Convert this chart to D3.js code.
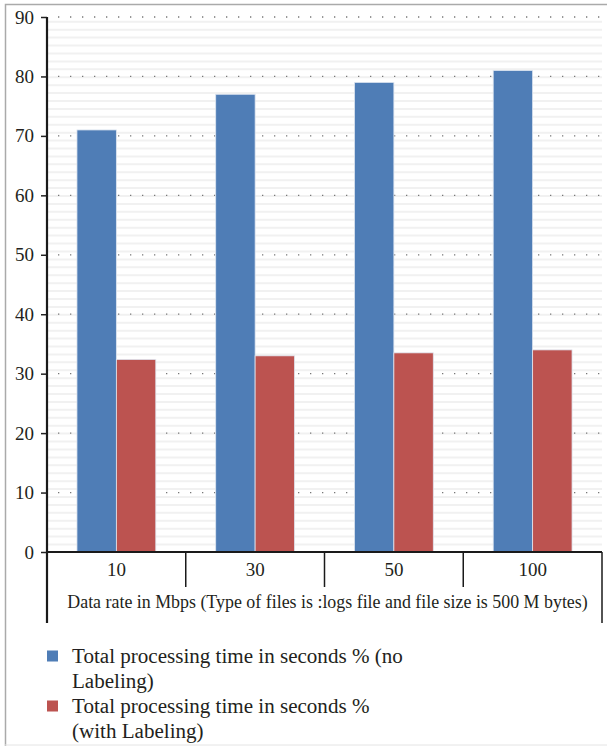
<!DOCTYPE html>
<html><head><meta charset="utf-8">
<script src="https://cdn.jsdelivr.net/npm/d3@7"></script>
<style>
html,body{margin:0;padding:0;background:#fff;}
svg{display:block;}
text{font-family:"Liberation Serif","Times New Roman",serif;fill:#231f20;}
</style></head>
<body>
<svg id="chart" width="607" height="746"></svg>
<script>
const categories = ["10", "30", "50", "100"];
const seriesNames = ["Total processing time in seconds % (no Labeling)",
                     "Total processing time in seconds % (with Labeling)"];
const noLabeling = [71, 77, 79, 81];
const withLabeling = [32.4, 33, 33.5, 34];
const yTicks = [0, 10, 20, 30, 40, 50, 60, 70, 80, 90];
const xTitle = "Data rate in Mbps (Type of files is :logs file and file size is 500 M bytes)";
const colors = ["#4f7db6", "#bc5350"];

const svg = d3.select("#chart");
const L = 47, R = 602, T = 17, B = 552;

// outer frame
svg.append("path").attr("d", `M5.5,746 V4.5 H607`).attr("fill","none").attr("stroke","#aaa").attr("stroke-width",1.5);
svg.append("line").attr("x1",5).attr("x2",607).attr("y1",745).attr("y2",745).attr("stroke","#e4e4e4").attr("stroke-width",1);

const y = d3.scaleLinear().domain([0, 90]).range([B, T]);
const x0 = d3.scaleBand().domain(categories).range([L, R]);
const x1 = d3.scaleBand().domain([0, 1]).range([0, x0.bandwidth()]).paddingOuter(0.76).paddingInner(0);

// faint background stripes
for (let yy = B - 7.5; yy > T; yy -= 7.92) {
  svg.append("line").attr("x1", L).attr("x2", R).attr("y1", yy).attr("y2", yy)
    .attr("stroke", "#f1f1f1").attr("stroke-width", 2);
}
// dotted gridlines
svg.append("g").selectAll("line").data(yTicks.filter(d => d > 0)).join("line")
  .attr("x1", L + 11).attr("x2", R).attr("y1", d => y(d)).attr("y2", d => y(d))
  .attr("stroke", "#777").attr("stroke-width", 1.3).attr("stroke-dasharray", "1.3,10.7");

// bars
const data = categories.map((c, i) => ({c, v: [noLabeling[i], withLabeling[i]]}));
const g = svg.append("g").selectAll("g").data(data).join("g")
  .attr("transform", d => `translate(${x0(d.c)},0)`);
g.selectAll("rect").data(d => d.v.map((v, k) => ({v, k}))).join("rect")
  .attr("x", d => x1(d.k)).attr("width", x1.bandwidth())
  .attr("y", d => y(d.v)).attr("height", d => B - y(d.v))
  .attr("fill", d => colors[d.k]).attr("stroke", "#dfe6f0").attr("stroke-width", 0.8);

// y axis
const yAxis = d3.axisLeft(y).tickValues(yTicks).tickSize(6).tickPadding(7);
const ya = svg.append("g").attr("transform", `translate(${L},0)`).call(yAxis);
ya.select(".domain").remove();
ya.selectAll(".tick line").attr("stroke", "#222").attr("stroke-width", 1.5);
ya.selectAll("text").attr("font-size", 19).attr("font-family", '"Liberation Serif",serif').attr("fill","#231f20");
svg.append("line").attr("x1", L).attr("x2", L).attr("y1", T).attr("y2", B + 71)
  .attr("stroke", "#1a1a1a").attr("stroke-width", 2.2);

// x axis box
svg.append("line").attr("x1", L).attr("x2", R).attr("y1", B).attr("y2", B).attr("stroke", "#1a1a1a").attr("stroke-width", 2.2);
svg.append("line").attr("x1", R).attr("x2", R).attr("y1", B).attr("y2", B + 71).attr("stroke", "#1a1a1a").attr("stroke-width", 1.5);
svg.append("g").selectAll("line").data(categories.slice(1)).join("line")
  .attr("x1", d => x0(d)).attr("x2", d => x0(d)).attr("y1", B).attr("y2", B + 35)
  .attr("stroke", "#1a1a1a").attr("stroke-width", 1.5);
svg.append("g").selectAll("text").data(categories).join("text")
  .attr("x", d => x0(d) + x0.bandwidth() / 2).attr("y", B + 24)
  .attr("text-anchor", "middle").attr("font-size", 19).text(d => d);

// x title, fitted to width
const xt = svg.append("text").attr("x", (67 + 588) / 2).attr("y", 608).attr("text-anchor", "middle").attr("font-size", 16).text(xTitle);
const fitSize = (sel, base, target) => base * target / sel.node().getComputedTextLength();
xt.attr("font-size", fitSize(xt, 16, 521));

// legend
const probe = svg.append("text").attr("font-size", 16).text("Total processing time in seconds % (no");
const legSize = fitSize(probe, 16, 331);
probe.remove();
let ly = 663;
seriesNames.forEach((name, i) => {
  svg.append("rect").attr("x", 47).attr("y", ly - 12.5).attr("width", 11).attr("height", 11).attr("fill", colors[i]);
  const words = name.split(" ");
  let line = [];
  const t = svg.append("text").attr("font-size", legSize);
  const tmp = svg.append("text").attr("font-size", legSize);
  const lines = [];
  words.forEach(w => {
    const test = line.concat([w]).join(" ");
    tmp.text(test);
    if (tmp.node().getComputedTextLength() > 345 && line.length) { lines.push(line.join(" ")); line = [w]; }
    else line.push(w);
  });
  lines.push(line.join(" "));
  tmp.remove();
  lines.forEach((s, j) => {
    t.append("tspan").attr("x", 72).attr("y", ly + j * 24.5).text(s);
  });
  ly += lines.length * 24.5 + 1;
});
</script>
</body></html>
